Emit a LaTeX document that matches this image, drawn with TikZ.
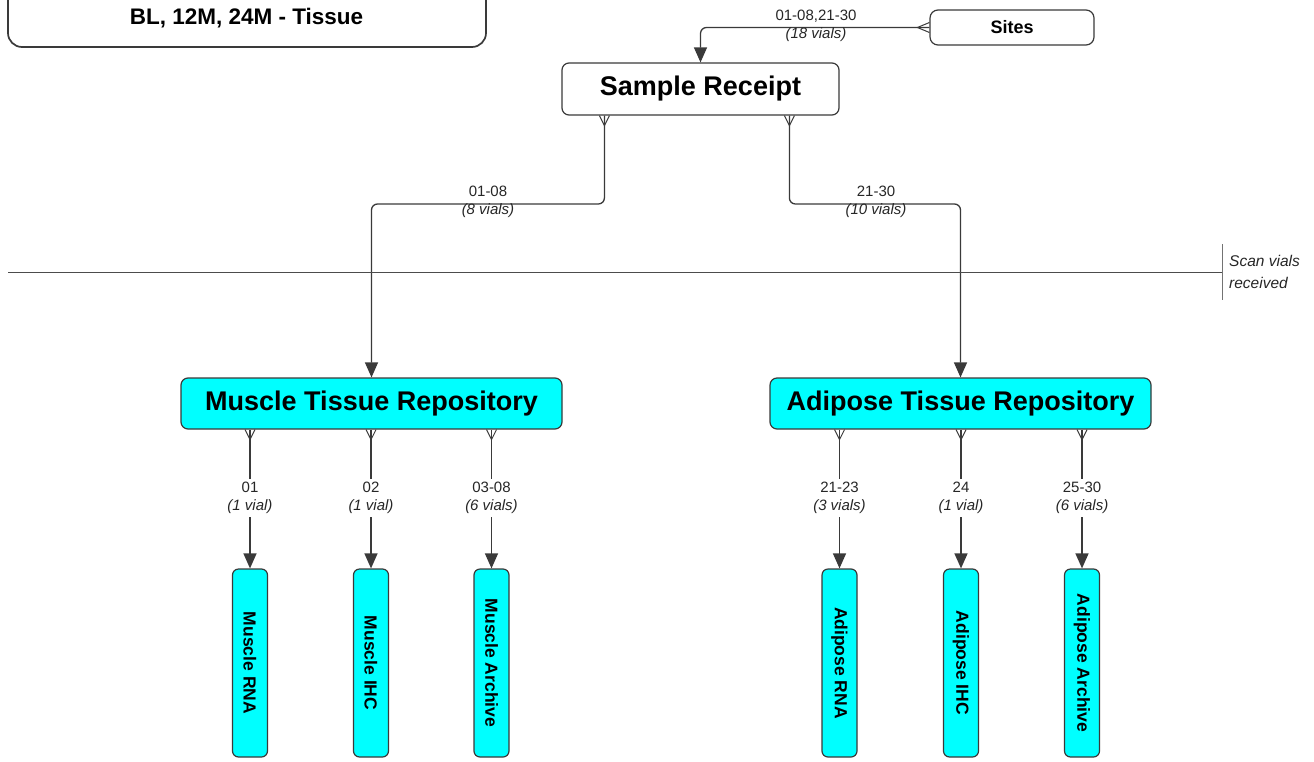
\documentclass[tikz,border=0pt]{standalone}
\usepackage{fontspec}
\setmainfont{Liberation Sans}
\usetikzlibrary{arrows.meta,calc}
\definecolor{boxcyan}{HTML}{00FFFF}
\definecolor{edgec}{HTML}{3A3A3A}
\definecolor{txtc}{HTML}{262626}
\begin{document}
\begin{tikzpicture}[x=1pt,y=-1pt,
  box/.style={draw=edgec, line width=1.2pt, rounded corners=7pt, fill=white, inner sep=0pt, align=center},
  repo/.style={box, fill=boxcyan, minimum width=381pt, minimum height=51pt, font=\bfseries\fontsize{27}{31}\selectfont},
  leaf/.style={box, fill=boxcyan, rotate=-90, minimum width=188pt, minimum height=35pt, rounded corners=6pt, font=\bfseries\fontsize{17.5}{20}\selectfont},
  conn/.style={draw=edgec, line width=1.3pt, rounded corners=6pt},
  arr/.style={-{Triangle[width=13pt,length=15pt]}},
  lbl/.style={font=\fontsize{15}{18}\selectfont, align=center, inner sep=1pt, text=txtc},
  blbl/.style={lbl, fill=white, inner ysep=3pt},
  foot/.style={draw=edgec, line width=1pt},
  divider/.style={draw=black!70, line width=1pt}
]
\useasboundingbox (0,0) rectangle (1314,761);

% top-left title box (cut by the top edge)
\node[box, line width=1.7pt, rounded corners=14pt, minimum width=478pt, minimum height=70pt] (title) at (247,12) {};
\node[font=\bfseries\fontsize{22.5}{26}\selectfont, text=black] (titletext) at (246.5,18) {BL, 12M, 24M - Tissue};

% main boxes
\node[box, minimum width=164pt, minimum height=35pt, rounded corners=8pt, font=\bfseries\fontsize{18}{21}\selectfont] (sites) at (1012,27.5) {Sites};
\node[box, minimum width=277pt, minimum height=52pt, font=\bfseries\fontsize{27}{31}\selectfont] (sr) at (700.5,89) {Sample Receipt};
\node[repo] (mtr) at (371.5,403.5) {Muscle Tissue Repository};
\node[repo] (atr) at (960.5,403.5) {Adipose Tissue Repository};

% leaves
\node[leaf] (mrna) at (250,663) {Muscle RNA};
\node[leaf] (mihc) at (371,663) {Muscle IHC};
\node[leaf] (marc) at (491.5,663) {Muscle Archive};
\node[leaf] (arna) at (839.5,663) {Adipose RNA};
\node[leaf] (aihc) at (961,663) {Adipose IHC};
\node[leaf] (aarc) at (1082,663) {Adipose Archive};

% Sites -> Sample Receipt
\draw[conn,arr] (sites.west) -| (sr.north);
\draw[foot] ([shift={(0,-5)}]sites.west) -- ([shift={(-12,0)}]sites.west) -- ([shift={(0,5)}]sites.west);
\node[lbl] (l0) at (816,26) {01-08,21-30\\\textit{(18 vials)}};

% Sample Receipt -> repositories
\coordinate (s1) at ($(sr.south west)+(43,0)$);
\coordinate (s2) at ($(sr.south west)+(228,0)$);
\coordinate (hy) at (0,204);
\draw[conn,arr] (s1) -- (s1 |- hy) -- (mtr.north |- hy) -- (mtr.north);
\draw[conn,arr] (s2) -- (s2 |- hy) -- (atr.north |- hy) -- (atr.north);
\draw[foot] ([shift={(-5,0)}]s1) -- ([shift={(0,10)}]s1) -- ([shift={(5,0)}]s1);
\draw[foot] ([shift={(-5,0)}]s2) -- ([shift={(0,10)}]s2) -- ([shift={(5,0)}]s2);
\node[lbl] (l1) at (488,202) {01-08\\\textit{(8 vials)}};
\node[lbl] (l2) at (876,202) {21-30\\\textit{(10 vials)}};

% scan line
\coordinate (sl0) at (8,272);
\coordinate (sl1) at (1222,272);
\coordinate (sv0) at (1222,244);
\coordinate (sv1) at (1222,300);
\draw[divider] (sl0) -- (sl1);
\draw[divider, draw=black!55] (sv0) -- (sv1);
\node[font=\itshape\fontsize{15.5}{22}\selectfont, align=left, anchor=west, text=txtc, inner sep=0pt] (scan) at (1229,272) {Scan vials\\received};

% repositories -> leaves
\foreach \leaf/\prnt/\txt in {mrna/mtr/{01\\\textit{(1 vial)}}, mihc/mtr/{02\\\textit{(1 vial)}}, marc/mtr/{03-08\\\textit{(6 vials)}}, arna/atr/{21-23\\\textit{(3 vials)}}, aihc/atr/{24\\\textit{(1 vial)}}, aarc/atr/{25-30\\\textit{(6 vials)}}}{
  \coordinate (st) at (\leaf.west |- \prnt.south);
  \draw[conn,arr] (st) -- (\leaf.west);
  \draw[foot] ([shift={(-5,0)}]st) -- ([shift={(0,10)}]st) -- ([shift={(5,0)}]st);
  \node[blbl] at ($(st)!0.5!(\leaf.west)+(0,-1)$) {\txt};
}
\end{tikzpicture}
\end{document}
